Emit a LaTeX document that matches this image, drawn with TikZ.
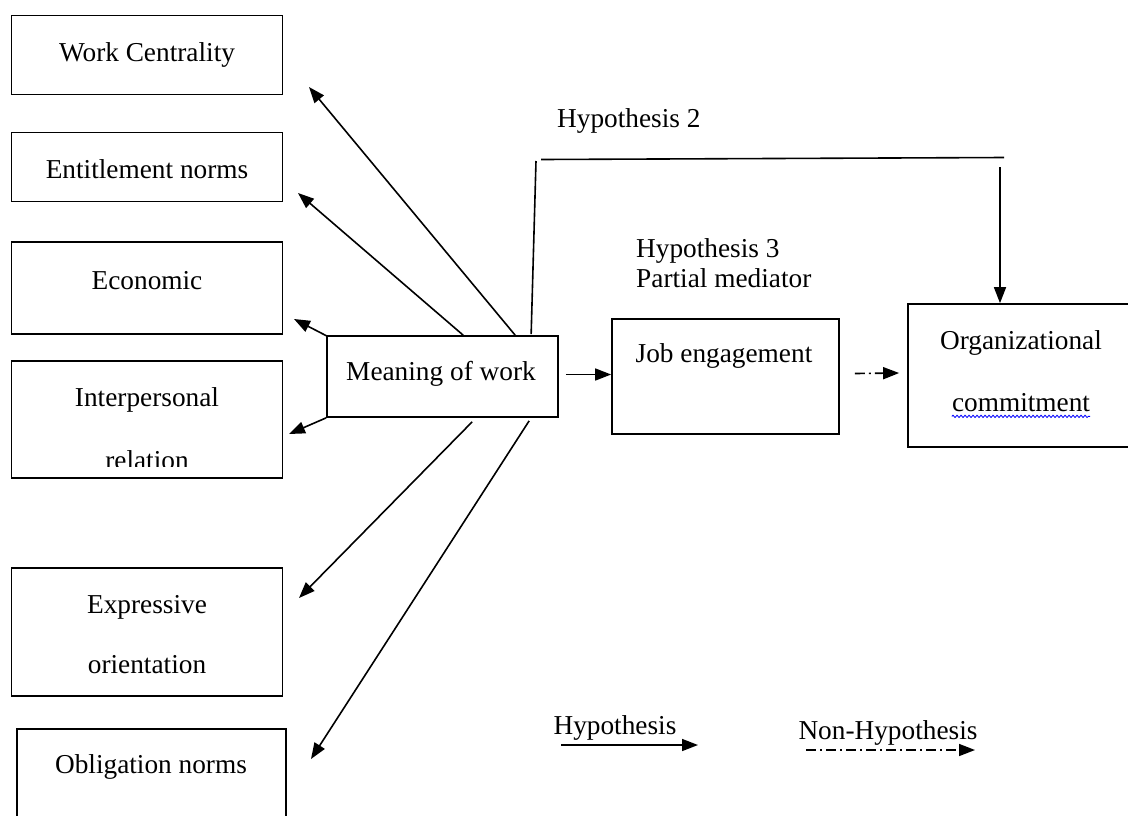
\documentclass[tikz,border=0pt]{standalone}
\usepackage{fontspec}
\setmainfont{Liberation Serif}
\usetikzlibrary{arrows.meta,calc,decorations.pathmorphing}
\begin{document}
\begin{tikzpicture}[x=1pt,y=-1pt,
  box/.style={draw, line width=1.7pt, inner sep=0pt},
  lbl/.style={inner sep=0pt, font=\fontsize{27.3}{30}\selectfont},
  arr/.style={line width=1.6pt, -{Triangle[length=16pt,width=12pt]}},
  link/.style={line width=1.6pt},
  dasharr/.style={line width=1.6pt, dash pattern=on 10pt off 4pt on 2pt off 4pt, -{Triangle[length=16pt,width=12pt]}}
]
\useasboundingbox[fill=white] (0,0) rectangle (1128,815);

% boxes
\node[box, minimum width=271pt, minimum height=79pt]  (wc) at (147,55) {};
\node[box, minimum width=271pt, minimum height=69pt]  (en) at (147,167) {};
\node[box, minimum width=271pt, minimum height=92pt]  (ec) at (147,288) {};
\node[box, minimum width=271pt, minimum height=117pt] (ip) at (147,419.5) {};
\node[box, minimum width=271pt, minimum height=128pt] (ex) at (147,632) {};
\node[box, minimum width=269pt, minimum height=111pt] (ob) at (151.5,784.5) {};
\node[box, minimum width=231pt, minimum height=81pt]  (mw) at (442.5,376.5) {};
\node[box, minimum width=227pt, minimum height=115pt] (je) at (725.5,376.5) {};
\node[box, minimum width=232pt, minimum height=143pt] (oc) at (1024,375.5) {};

% texts
\node[lbl] (wct) at (147,55) {Work Centrality};
\node[lbl] (ent) at (147,169) {Entitlement norms};
\node[lbl] (ect) at (147,281) {Economic};
\node[lbl] (ipt1) at (147,400) {Interpersonal};
\begin{scope}
  \clip (12,440) rectangle (282,466);
  \node[lbl, anchor=base] (ipt2) at (147,469) {relation};
\end{scope}
\node[lbl] (ext1) at (147,607) {Expressive};
\node[lbl] (ext2) at (147,665) {orientation};
\node[lbl] (obt) at (151,767) {Obligation norms};
\node[lbl] (mwt) at (441,374) {Meaning of work};
\node[lbl] (jet) at (724,356) {Job engagement};
\node[lbl] (oct1) at (1021,343) {Organizational};
\node[lbl] (oct2) at (1021,403) {commitment};
\draw[blue, line width=0.8pt, decorate, decoration={snake, amplitude=1.2pt, segment length=4pt}]
  ($(oct2.south west)+(0,4)$) -- ($(oct2.south east)+(0,4)$);
\node[lbl, anchor=west] (h2) at (557,121) {Hypothesis 2};
\node[lbl, anchor=west] (h3a) at (636,251) {Hypothesis 3};
\node[lbl, anchor=west] (h3b) at (636,278) {Partial mediator};

% fan of arrows from meaning of work
\coordinate (t1) at (309,87);
\coordinate (t2) at (298,193);
\coordinate (t3) at (294,319);
\coordinate (t4) at (289,434);
\coordinate (t5) at (299,598);
\coordinate (t6) at (311,759);
\draw[arr] ($(mw.north west)+(189,0)$) -- (t1);
\draw[arr] ($(mw.north west)+(137,0)$) -- (t2);
\draw[arr] ($(mw.north west)+(1,1)$) -- (t3);
\draw[arr] (mw.south west) -- (t4);
\draw[arr] ($(mw.south west)+(146,4)$) -- (t5);
\draw[arr] ($(mw.south west)+(203,3)$) -- (t6);

% main path
\draw[arr] ($(mw.east)+(7,-2)$) -- ($(je.west)+(0,-2)$);
\draw[dasharr] ($(je.east)+(15,-3)$) -- ($(oc.west)+(-8,-2.5)$);

% hypothesis 2 path
\coordinate (v1) at (536,161);
\coordinate (hL) at (541,159.5);
\coordinate (hR) at (1004,157.5);
\coordinate (dS) at (1000,167);
\draw[link] ($(mw.north west)+(205,-1)$) -- (v1);
\draw[link] (hL) -- (hR);
\draw[arr] (dS) -- (oc.north -| dS);

% legend
\node[lbl] (lg1) at (615,728) {Hypothesis};
\node[lbl] (lg2) at (888,733) {Non-Hypothesis};
\coordinate (l1s) at (561,745);
\coordinate (l1e) at (698,745);
\coordinate (l2s) at (806,750);
\coordinate (l2e) at (975,750);
\draw[arr] (l1s) -- (l1e);
\draw[dasharr] (l2s) -- (l2e);
\end{tikzpicture}
\end{document}
